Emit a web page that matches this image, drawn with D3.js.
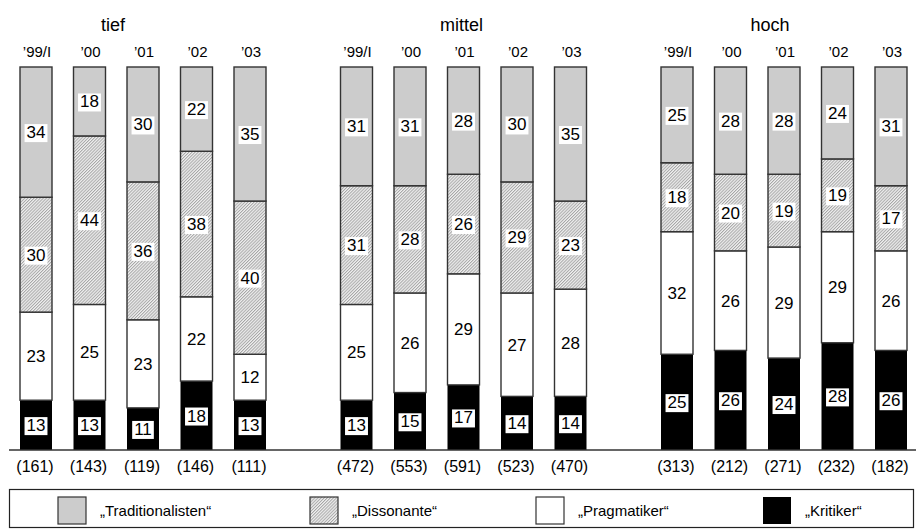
<!DOCTYPE html>
<html><head><meta charset="utf-8">
<script src="https://cdn.jsdelivr.net/npm/d3@7"></script>
<style>body{margin:0;background:#fff}svg{display:block;font-family:"Liberation Sans",Arial,sans-serif}</style>
</head><body><svg id="c" width="916" height="529"></svg>
<script>
const groups = ["tief", "mittel", "hoch"];
const years = ["’99/I", "’00", "’01", "’02", "’03"];
const seriesNames = ["„Kritiker“", "„Pragmatiker“", "„Dissonante“", "„Traditionalisten“"];
// values per group, per year (bottom -> top)
const kritiker = [[13,13,11,18,13],[13,15,17,14,14],[25,26,24,28,26]];
const pragmatiker = [[23,25,23,22,12],[25,26,29,27,28],[32,26,29,29,26]];
const dissonante = [[30,44,36,38,40],[31,28,26,29,23],[18,20,19,19,17]];
const traditionalisten = [[34,18,30,22,35],[31,31,28,30,35],[25,28,28,24,31]];
const counts = [[161,143,119,146,111],[472,553,591,523,470],[313,212,271,232,182]];
const legendOrder = ["„Traditionalisten“", "„Dissonante“", "„Pragmatiker“", "„Kritiker“"];

const svg = d3.select("#c");
const defs = svg.append("defs");
const pat = defs.append("pattern").attr("id","hatch").attr("patternUnits","userSpaceOnUse")
  .attr("width",2.2).attr("height",2.2).attr("patternTransform","rotate(45)");
pat.append("rect").attr("width",2.2).attr("height",2.2).attr("fill","#f0f0f0");
pat.append("line").attr("x1",0.5).attr("y1",0).attr("x2",0.5).attr("y2",2.2).attr("stroke","#a0a0a0").attr("stroke-width",0.9);

const fills = {"„Kritiker“":"#000","„Pragmatiker“":"#fff","„Dissonante“":"url(#hatch)","„Traditionalisten“":"#cccccc"};
const seriesData = [kritiker, pragmatiker, dissonante, traditionalisten];

const barW = 32;
const gx = d3.scalePoint().domain(groups).range([20, 661]);
const bx = d3.scalePoint().domain(years).range([0, 214]);
const y = d3.scaleLinear().domain([0,100]).range([450, 67]);
const titleShift = [-30, -2, -14];

groups.forEach((g, gi) => {
  const G = svg.append("g").attr("transform", `translate(${gx(g)},0)`);
  G.append("text").attr("x", bx(years[2]) + barW/2 + titleShift[gi]).attr("y", 31)
    .attr("text-anchor","middle").attr("font-size", 18).text(g);
  years.forEach((yr, yi) => {
    const x0 = bx(yr);
    const cx = x0 + barW/2;
    G.append("text").attr("x", cx + 1).attr("y", 57).attr("text-anchor","middle")
      .attr("font-size", 15).text(yr);
    G.append("text").attr("x", cx - 1).attr("y", 472).attr("text-anchor","middle")
      .attr("font-size", 16).text(`(${counts[gi][yi]})`);
    let cum = 0;
    seriesData.forEach((sd, si) => {
      const v = sd[gi][yi];
      const name = seriesNames[si];
      const yTop = y(cum + v), yBot = y(cum);
      const isBlack = si === 0;
      G.append("rect").attr("x", x0).attr("y", yTop).attr("width", barW)
        .attr("height", yBot - yTop).attr("fill", fills[name])
        .attr("stroke", isBlack ? "none" : "#333").attr("stroke-width", 1.4);
      const lg = G.append("g");
      const t = lg.append("text").attr("x", cx).attr("y", (yTop + yBot)/2 + 6)
        .attr("text-anchor","middle").attr("font-size", 17).text(v);
      const bb = t.node().getBBox();
      lg.insert("rect","text").attr("x", bb.x - 2).attr("y", bb.y + 1)
        .attr("width", bb.width + 4).attr("height", bb.height - 1).attr("fill","#fff");
      cum += v;
    });
  });
});

// baseline
svg.append("line").attr("x1", 9).attr("x2", 916).attr("y1", y(0)).attr("y2", y(0))
  .attr("stroke","#333").attr("stroke-width",1.5);

// legend
svg.append("rect").attr("x", 9.5).attr("y", 489.5).attr("width", 904).attr("height", 38)
  .attr("fill","none").attr("stroke","#222").attr("stroke-width",1.2);
const legX = [58, 310, 536, 763];
legendOrder.forEach((n, i) => {
  svg.append("rect").attr("x", legX[i]).attr("y", 497).attr("width", 28).attr("height", 27)
    .attr("fill", fills[n]).attr("stroke", n === "„Kritiker“" ? "none" : "#333").attr("stroke-width", 1.2);
  svg.append("text").attr("x", legX[i] + 42).attr("y", 516).attr("font-size", 15).text(n);
});
</script></body></html>
